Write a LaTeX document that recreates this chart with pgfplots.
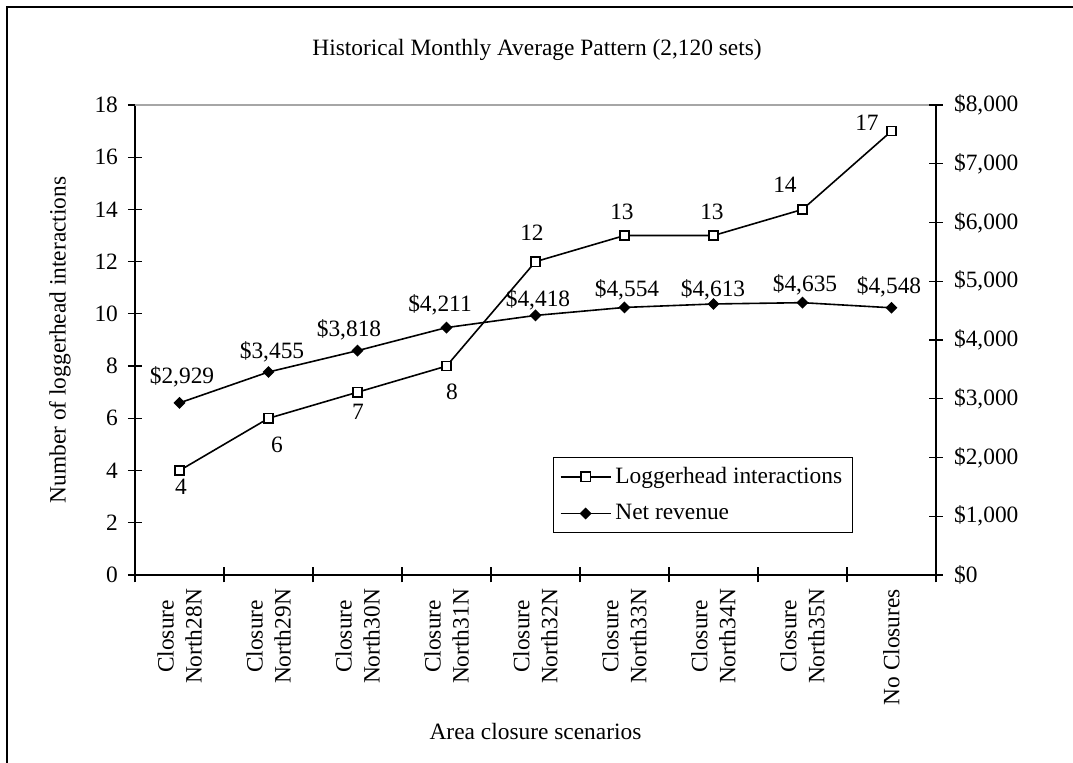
\documentclass[border=0pt]{standalone}
\usepackage{fontspec}
\setmainfont{Liberation Serif}
\usepackage{pgfplots}
\usepackage{pgfplotstable}
\pgfplotsset{compat=1.18}

\pgfplotstableread{
x y dx dy
0 4 0.75 -8.2
1 6 4.3 -13.4
2 7 0.25 -10
3 8 2.75 -13
4 12 -1.75 14.3
5 13 -1.25 11.8
6 13 -0.75 11.8
7 14 -8.75 12.2
8 17 -12.25 4
}\logtable

\pgfplotstableread{
x y dx dy
0 2929 1.25 13
1 3455 1.75 10
2 3818 -4.25 10.4
3 4211 -3.25 11.3
4 4418 1.25 7.7
5 4554 1.25 8.7
6 4613 -0.25 7
7 4635 1.25 8.8
8 4548 -1.25 10.4
}\revtable

\newcommand{\fs}{\fontsize{11.7}{14}\selectfont}

\begin{document}
\begin{tikzpicture}[font=\fs]
\pgfplotsset{
  base/.style={
    scale only axis, width=400.5pt, height=235pt,
    at={(67.5pt,94pt)}, anchor=south west,
    xmin=-0.5, xmax=8.5,
    ymin=0,
    tick align=center,
    major tick length=7pt,
    minor tick length=7.5pt,
    axis line style={-, line width=0.8pt, black},
    every tick/.style={black, line width=0.6pt},
    /pgf/number format/assume math mode=true,
    tick label style={font=\fs},
    clip=false,
  }
}
\begin{axis}[base,
  ymax=18, ytick={0,2,...,18},
  axis x line*=bottom, axis y line*=left,
  xtick={0,...,8},
  xticklabels={{Closure\\North28N},{Closure\\North29N},{Closure\\North30N},{Closure\\North31N},{Closure\\North32N},{Closure\\North33N},{Closure\\North34N},{Closure\\North35N},{No Closures}},
  xticklabel style={rotate=90, anchor=east, align=center},
  yticklabel style={xshift=-1.5pt},
  major x tick style={draw=none},
  minor xtick={-0.5,0.5,...,8.5},
  title={Historical Monthly Average Pattern (2,120 sets)},
  title style={at={(rel axis cs:0.502,1.0915)}, anchor=center},
  xlabel={Area closure scenarios},
  xlabel style={at={(rel axis cs:0.5,-0.334)}, anchor=center},
  ylabel={Number of loggerhead interactions},
  ylabel style={at={(rel axis cs:-0.0936,0.5)}, anchor=center, rotate=0},
]
\draw[gray!70, line width=0.8pt] (rel axis cs:0,1) -- (rel axis cs:1,1);
\addplot[black, line width=0.8pt, mark=square*, mark size=2.3pt, mark options={fill=white, line width=0.7pt},
  visualization depends on={\thisrow{dx} \as \dx},
  visualization depends on={\thisrow{dy} \as \dy},
  nodes near coords, point meta=y,
  every node near coord/.style={anchor=center, xshift=\dx pt, yshift=\dy pt, black, font=\fs}]
  table[x=x,y=y] {\logtable};
\end{axis}
\begin{axis}[base,
  ymax=8000, ytick={0,1000,...,8000},
  axis y line*=right, axis x line=none,
  scaled y ticks=false,
  yticklabel={\$\pgfmathprintnumber[fixed,precision=0,1000 sep={,}]{\tick}},
  yticklabel style={xshift=2pt},
  legend style={at={(0.896,0.089)}, anchor=south east, draw=black, line width=0.5pt, row sep=5pt, inner xsep=3pt, inner ysep=3pt, font=\fs},
  legend cell align=left,
  legend image code/.code={\draw[mark repeat=2,mark phase=2] plot coordinates {(0pt,0pt) (12.5pt,0pt) (25pt,0pt)};},
]
\addlegendimage{black, line width=0.8pt, mark=square*, mark size=2.3pt, mark options={fill=white, line width=0.7pt}}
\addlegendentry{Loggerhead interactions}
\addplot[black, line width=0.8pt, mark=square*, mark size=1.7pt, mark options={rotate=45, fill=black},
  visualization depends on={\thisrow{dx} \as \dx},
  visualization depends on={\thisrow{dy} \as \dy},
  nodes near coords={\$\pgfmathprintnumber[fixed,precision=0,1000 sep={,}]{\pgfplotspointmeta}},
  point meta=y,
  every node near coord/.style={anchor=center, xshift=\dx pt, yshift=\dy pt, black, font=\fs}]
  table[x=x,y=y] {\revtable};
\addlegendentry{Net revenue}
\end{axis}
\draw[line width=1pt] (3.5pt,-10pt) -- (3.5pt,378pt) -- (550pt,378pt);
\pgfresetboundingbox
\useasboundingbox (0,0) rectangle (536.5pt,381.5pt);
\end{tikzpicture}
\end{document}
